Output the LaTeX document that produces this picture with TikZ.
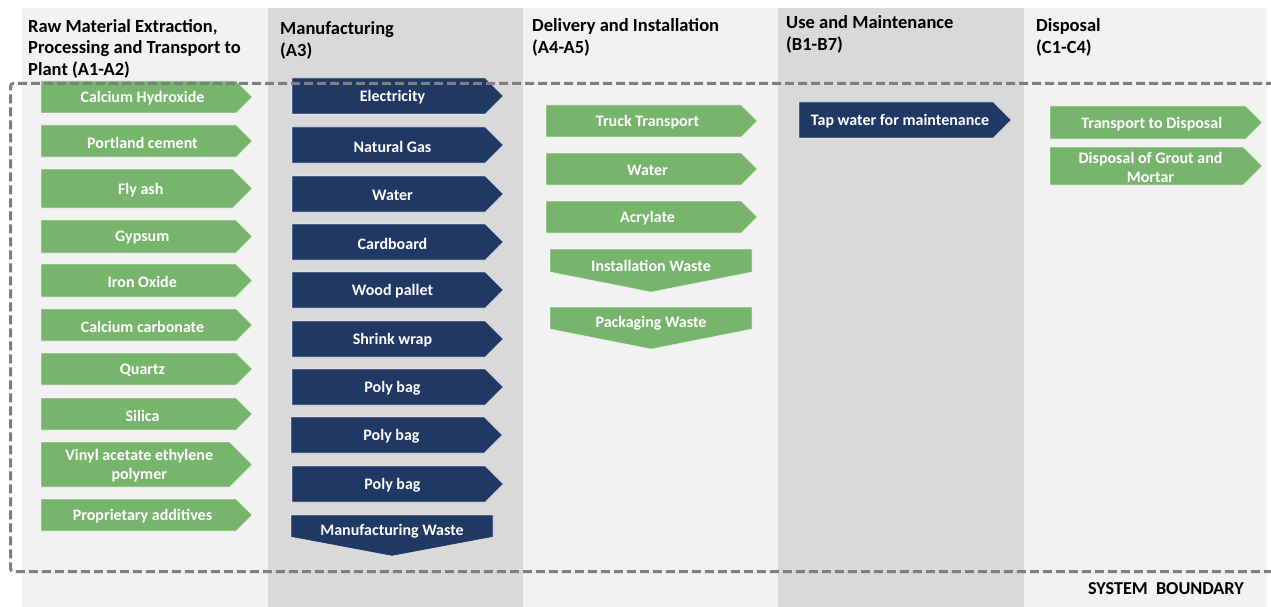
\documentclass[tikz,border=0pt]{standalone}
\usepackage{fontspec}
\setmainfont{Carlito}
\usetikzlibrary{calc}
\definecolor{grn}{HTML}{77B46C}
\definecolor{nvy}{HTML}{1F3864}
\definecolor{collight}{HTML}{F2F2F2}
\definecolor{coldark}{HTML}{D9D9D9}
\definecolor{bnd}{HTML}{7F7F7F}
\tikzset{
  lbl/.style={text=white, font=\bfseries\fontsize{16}{19}\selectfont, align=center, inner sep=0pt},
  hdr/.style={text=black, font=\bfseries\fontsize{18.5}{21.5}\selectfont, align=left, anchor=base west, inner sep=0pt},
  boxedge/.style={draw=white, draw opacity=0.55, line width=0.6pt},
  boundary/.style={draw=bnd, line width=3pt, dash pattern=on 9pt off 4pt, rounded corners=3pt}
}
% right arrow: name, x1, xtip, ytop, ybot, colour, text
\newcommand\rarr[7]{%
  \pgfmathsetmacro\hh{(#5-#4)/2}%
  \pgfmathsetmacro\xb{#3-\hh}%
  \pgfmathsetmacro\ym{(#4+#5)/2}%
  \pgfmathsetmacro\ytx{(#4+#5)/2+1.5}%
  \pgfmathsetmacro\xt{(#2+\xb)/2+4}%
  \fill[#6, boxedge] (#2,#4) -- (\xb,#4) -- (#3,\ym) -- (\xb,#5) -- (#2,#5) -- cycle;
  \node[lbl] (#1) at (\xt,\ytx) {#7};%
}
% down arrow: name, x1, x2, ytop, yshoulder, ytip, colour, text
\newcommand\darr[8]{%
  \pgfmathsetmacro\xm{(#2+#3)/2}%
  \pgfmathsetmacro\yt{#4+16.5}%
  \fill[#7, boxedge] (#2,#4) -- (#3,#4) -- (#3,#5) -- (\xm,#6) -- (#2,#5) -- cycle;
  \node[lbl] (#1) at (\xm,\yt) {#8};%
}
\begin{document}
\begin{tikzpicture}[x=1pt,y=-1pt]
\useasboundingbox (0,0) rectangle (1271,607);
\fill[white] (0,0) rectangle (1271,607);
% columns
\fill[collight] (22,8) rectangle (268,607);
\fill[coldark] (268,8) rectangle (523,607);
\fill[collight] (523,8) rectangle (778,607);
\fill[coldark] (778,8) rectangle (1024,607);
\fill[collight] (1024,8) rectangle (1267,607);
% headers (anchor = baseline of the last line)
\node[hdr] (h1) at (28,75.5) {Raw Material Extraction,\\Processing and Transport to\\Plant (A1-A2)};
\node[hdr] (h2) at (280,56.5) {Manufacturing\\(A3)};
\node[hdr] (h3) at (532,53.5) {Delivery and Installation\\(A4-A5)};
\node[hdr] (h4) at (786,50.5) {Use and Maintenance\\(B1-B7)};
\node[hdr] (h5) at (1036,53.5) {Disposal\\(C1-C4)};
% column 1
\rarr{a1}{41}{252}{81}{113}{grn}{Calcium Hydroxide}
\rarr{a2}{41}{252}{125}{157}{grn}{Portland cement}
\rarr{a3}{41}{252}{169}{208}{grn}{Fly ash}
\rarr{a4}{41}{252}{220}{253}{grn}{Gypsum}
\rarr{a5}{41}{252}{264}{297}{grn}{Iron Oxide}
\rarr{a6}{41}{252}{309}{341}{grn}{Calcium carbonate}
\rarr{a7}{41}{252}{353}{385}{grn}{Quartz}
\rarr{a8}{41}{252}{398}{430}{grn}{Silica}
\rarr{a9}{41}{252}{442}{487}{grn}{Vinyl acetate ethylene\\polymer}
\rarr{a10}{41}{252}{499}{531}{grn}{Proprietary additives}
% column 2
\rarr{b1}{292}{503}{78}{114}{nvy}{Electricity}
\rarr{b2}{292}{503}{127}{163}{nvy}{Natural Gas}
\rarr{b3}{292}{503}{176}{212}{nvy}{Water}
\rarr{b4}{292}{503}{224}{260}{nvy}{Cardboard}
\rarr{b5}{292}{503}{272}{308}{nvy}{Wood pallet}
\rarr{b6}{292}{503}{321}{357}{nvy}{Shrink wrap}
\rarr{b7}{292}{503}{369}{405}{nvy}{Poly bag}
\rarr{b8}{291}{502}{417}{453}{nvy}{Poly bag}
\rarr{b9}{292}{503}{466}{502}{nvy}{Poly bag}
\darr{b10}{291}{493}{515}{537}{556}{nvy}{Manufacturing Waste}
% column 3
\rarr{c1}{546}{757}{105}{137}{grn}{Truck Transport}
\rarr{c2}{546}{757}{153}{185}{grn}{Water}
\rarr{c3}{546}{757}{201}{233}{grn}{Acrylate}
\darr{c4}{550}{752}{249}{272}{292}{grn}{Installation Waste}
\darr{c5}{550}{752}{307}{329}{349}{grn}{Packaging Waste}
% column 4
\rarr{d1}{799}{1011}{102}{138}{nvy}{Tap water for maintenance}
% column 5
\rarr{e1}{1050}{1262}{106}{139}{grn}{Transport to Disposal}
\rarr{e2}{1050}{1262}{147}{185}{grn}{Disposal of Grout and\\Mortar}
% system boundary
\draw[boundary] (1275,83.5) -- (10.5,83.5) -- (10.5,571.5) -- (1275,571.5);
\node[font=\bfseries\fontsize{18.2}{20}\selectfont, anchor=base east, inner sep=0pt] (sb) at (1244,594) {SYSTEM\ \ BOUNDARY};
\end{tikzpicture}
\end{document}
